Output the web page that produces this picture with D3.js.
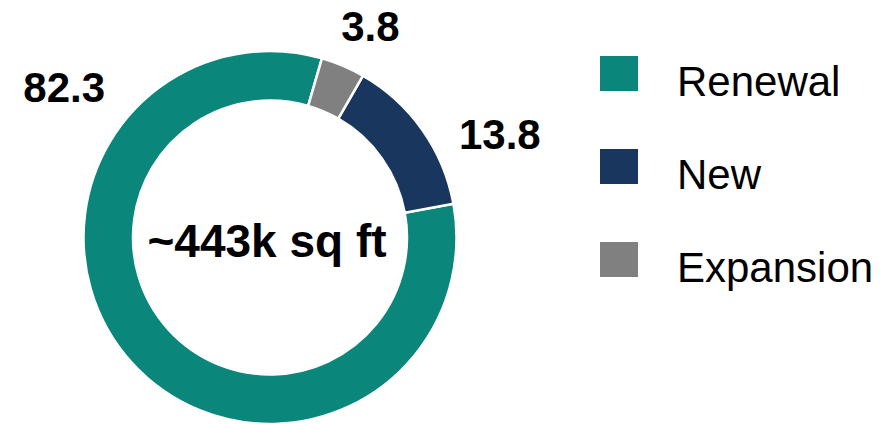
<!DOCTYPE html>
<html>
<head>
<meta charset="utf-8">
<script src="https://cdn.jsdelivr.net/npm/d3@7"></script>
<style>
  body { margin: 0; background: #fff; }
  svg { display: block; font-family: "Liberation Sans", Arial, sans-serif; }
</style>
</head>
<body>
<svg width="886" height="424"></svg>
<script>
// chart data
const categories = ['Renewal', 'New', 'Expansion']
const values = [82.3, 13.8, 3.8]
const valueLabels = ['82.3', '13.8', '3.8']
const centerLabel = '~443k sq ft'

const colors = ['#0a867b', '#19365e', '#808080']

let svg = d3.select('svg')
let cx = 270, cy = 237.5
let outer = 186.5, inner = 137

let rad = d => d * Math.PI / 180
let data = categories.map((c, i) => ({ name: c, value: values[i], label: valueLabels[i] }))

// counter-clockwise, Renewal ends where New begins (~79.6deg)
let total = d3.sum(values)
let start = rad(79.6 + 360 * values[0] / total)
let pie = d3.pie().sort(null).value(d => d.value)
  .startAngle(start).endAngle(start - 2 * Math.PI)

let arc = d3.arc().innerRadius(inner).outerRadius(outer)
let color = d3.scaleOrdinal(categories, colors)

let g = svg.append('g').attr('transform', 'translate(' + cx + ',' + cy + ')')

g.selectAll('path')
  .data(pie(data))
  .enter()
  .append('path')
    .attr('d', arc)
    .attr('fill', d => color(d.data.name))
    .attr('stroke', '#fff')
    .attr('stroke-width', 2.5)

// label placement around the ring (angle in deg, radius in px)
let labelPolar = { Renewal: [306.2, 255], New: [65.8, 252], Expansion: [25.4, 234] }

g.selectAll('text.val')
  .data(data)
  .enter()
  .append('text')
    .attr('class', 'val')
    .attr('transform', d => {
      let p = d3.pointRadial(rad(labelPolar[d.name][0]), labelPolar[d.name][1])
      return 'translate(' + p + ')'
    })
    .attr('text-anchor', 'middle')
    .attr('dy', '0.36em')
    .attr('font-size', 42)
    .attr('font-weight', 'bold')
    .text(d => d.label)

g.append('text')
  .attr('x', -3)
  .attr('y', 19.5)
  .attr('text-anchor', 'middle')
  .attr('font-size', 46)
  .attr('font-weight', 'bold')
  .text(centerLabel)

// legend
let ly = d3.scalePoint().domain(categories).range([56, 242])

let legend = svg.selectAll('g.legend')
  .data(categories)
  .enter()
  .append('g')
    .attr('class', 'legend')
    .attr('transform', d => 'translate(0,' + ly(d) + ')')

legend.append('rect')
  .attr('x', 600)
  .attr('width', 38)
  .attr('height', 35)
  .attr('fill', d => color(d))

legend.append('text')
  .attr('x', 677)
  .attr('y', 40)
  .attr('font-size', 42)
  .text(d => d)
</script>
</body>
</html>
